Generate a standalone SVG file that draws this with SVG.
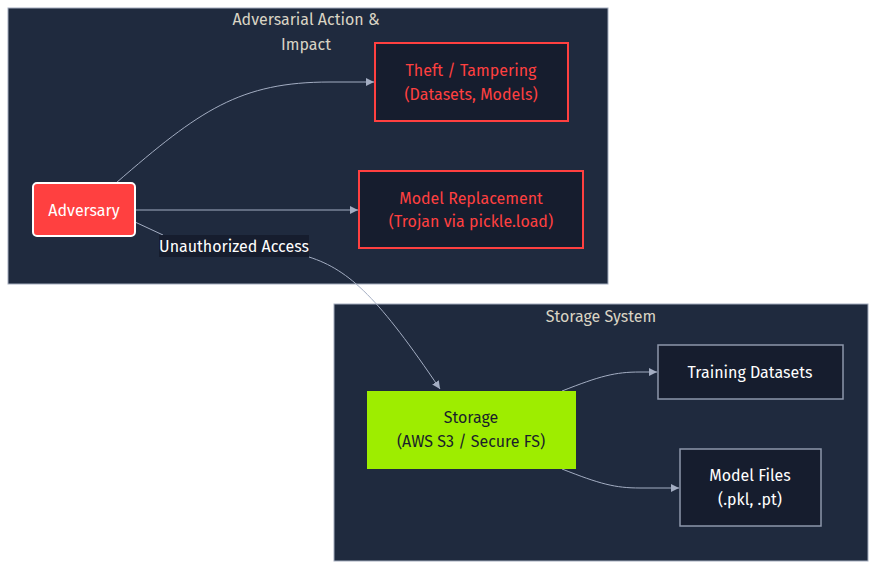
<svg xmlns="http://www.w3.org/2000/svg" width="876" height="570" viewBox="0 0 876 570">
<style>
text{font-family:"Fira Sans","Noto Sans","Liberation Sans",sans-serif;font-size:16px;text-anchor:middle;dominant-baseline:central}
.cl{fill:#1f2a3e;stroke:#a3acbd;stroke-width:1}
.ct{fill:#d9d4c4}
.red{fill:#161d2e;stroke:#ff4040;stroke-width:2}
.rt{fill:#ff4040}
.dk{fill:#161d2e;stroke:#8d97ab;stroke-width:1.5}
.wt{fill:#ffffff}
.e{fill:none;stroke:#a3adc2;stroke-width:1}
</style>
<defs>
<marker id="ah" viewBox="0 0 10 10" refX="10" refY="5" markerWidth="8" markerHeight="8" orient="auto" markerUnits="userSpaceOnUse">
<path d="M0,0L10,5L0,10z" fill="#a3adc2"/>
</marker>
</defs>
<g id="cluster-adversarial">
<rect class="cl" x="8" y="8" width="600" height="276"/>
<text class="ct" x="306" y="19">Adversarial Action &amp;</text>
<text class="ct" x="306" y="44">Impact</text>
</g>
<g id="cluster-storage">
<rect class="cl" x="334" y="304" width="534" height="257"/>
<text class="ct" x="601" y="316">Storage System</text>
</g>
<g id="connectors">
<path class="e" d="M116,183 C200,110 240,82 330,82 L374,82" marker-end="url(#ah)"/>
<path class="e" d="M135,210 L358,210" marker-end="url(#ah)"/>
<path class="e" d="M135,222 L163,235"/>
<path class="e" d="M309,257 C350,270 380,300 440,389" marker-end="url(#ah)"/>
<path class="e" d="M562,391 C600,376 615,372 640,372 L657,372" marker-end="url(#ah)"/>
<path class="e" d="M562,469 C600,484 615,488 640,488 L679,488" marker-end="url(#ah)"/>
<rect x="159" y="235" width="150" height="22" fill="#161d2e"/>
<text class="wt" x="234" y="246">Unauthorized Access</text>
</g>
<g id="node-adversary">
<rect x="33" y="183" width="102" height="53" rx="4" fill="#ff4040" stroke="#ffffff" stroke-width="2"/>
<text class="wt" x="84" y="210">Adversary</text>
</g>
<g id="node-theft">
<rect class="red" x="375" y="43" width="193" height="78"/>
<text class="rt" x="471" y="70">Theft / Tampering</text>
<text class="rt" x="471" y="94">(Datasets, Models)</text>
</g>
<g id="node-replacement">
<rect class="red" x="359" y="171" width="224" height="77"/>
<text class="rt" x="471" y="198">Model Replacement</text>
<text class="rt" x="471" y="221">(Trojan via pickle.load)</text>
</g>
<g id="node-storage">
<rect x="367" y="391" width="209" height="78" fill="#9eed00"/>
<text x="471" y="417" fill="#1a1f2a">Storage</text>
<text x="471" y="441" fill="#1a1f2a">(AWS S3 / Secure FS)</text>
</g>
<g id="node-datasets">
<rect class="dk" x="658" y="345" width="185" height="54"/>
<text class="wt" x="750" y="372">Training Datasets</text>
</g>
<g id="node-models">
<rect class="dk" x="680" y="449" width="141" height="77"/>
<text class="wt" x="750" y="475">Model Files</text>
<text class="wt" x="750" y="499">(.pkl, .pt)</text>
</g>
</svg>
